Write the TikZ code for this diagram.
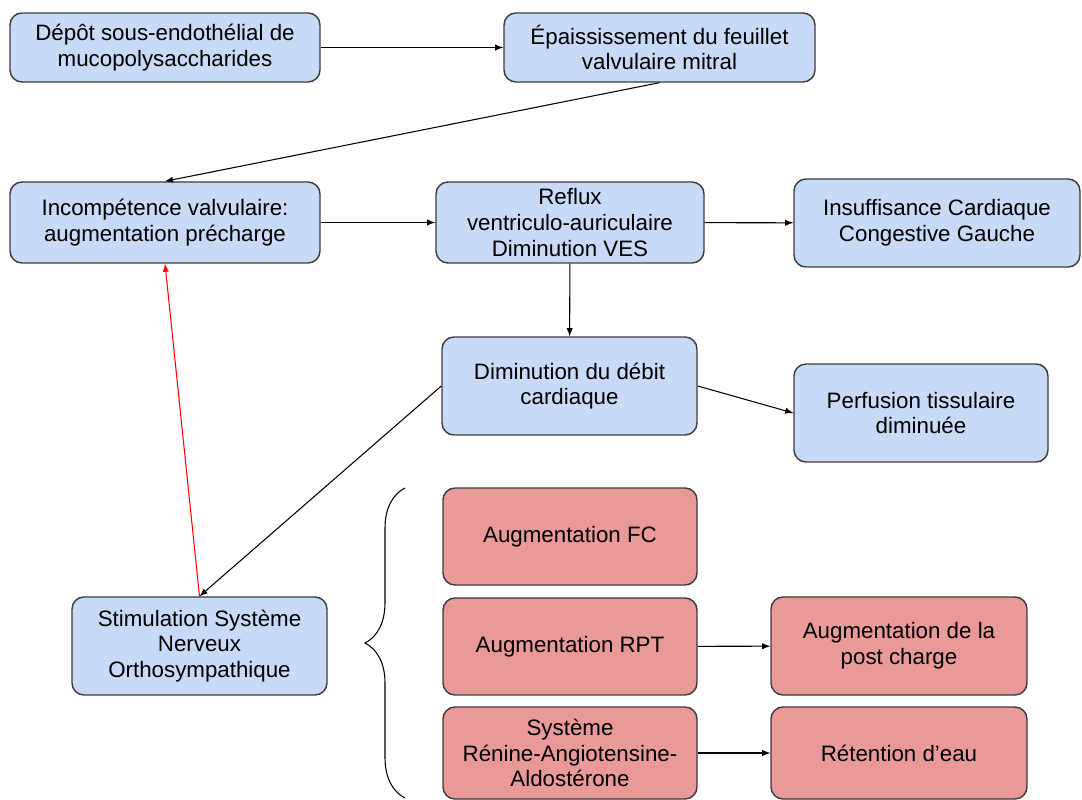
\documentclass[tikz,border=0pt]{standalone}
\usepackage{fontspec}
\setmainfont{Liberation Sans}
\usetikzlibrary{decorations.pathreplacing}
\definecolor{bluebox}{HTML}{C9DAF8}
\definecolor{redbox}{HTML}{EA9999}
\definecolor{edgegray}{HTML}{3C3C3C}
\begin{document}
\begin{tikzpicture}[
        box/.style={draw=edgegray,line width=0.8pt,rounded corners=0.24cm,align=center,inner sep=0pt,font=\fontsize{12.7}{14.6}\selectfont},
        bluenode/.style={box,fill=bluebox},
        rednode/.style={box,fill=redbox},
        link/.style={-latex,line width=0.6pt}]
        \useasboundingbox (0,0) rectangle (21.64,-16);
        \node[bluenode,minimum width=6.2cm,minimum height=1.38cm](depot)at(3.3,-0.95){Dépôt sous-endothélial de\\mucopolysaccharides};
        \node[bluenode,minimum width=6.22cm,minimum height=1.38cm](epaiss)at(13.19,-0.95){Épaississement du feuillet\\valvulaire mitral};
        \node[bluenode,minimum width=6.2cm,minimum height=1.62cm](incomp)at(3.3,-4.45){Incompétence valvulaire:\\augmentation précharge};
        \node[bluenode,minimum width=5.36cm,minimum height=1.62cm](reflux)at(11.4,-4.45){Reflux\\ventriculo-auriculaire\\Diminution VES};
        \node[bluenode,minimum width=5.72cm,minimum height=1.76cm](iccg)at(18.74,-4.46){Insuffisance Cardiaque\\Congestive Gauche};
        \node[bluenode,minimum width=5.1cm,minimum height=1.96cm](debit)at(11.39,-7.72){Diminution du débit\\cardiaque};
        \node[bluenode,minimum width=5.08cm,minimum height=1.96cm](perf)at(18.42,-8.26){Perfusion tissulaire\\diminuée};
        \node[bluenode,minimum width=5.1cm,minimum height=1.96cm](stim)at(3.99,-12.92){Stimulation Système\\Nerveux\\Orthosympathique};
        \node[rednode,minimum width=5.08cm,minimum height=1.94cm](fc)at(11.4,-10.73){Augmentation FC};
        \node[rednode,minimum width=5.08cm,minimum height=1.94cm](rpt)at(11.4,-12.93){Augmentation RPT};
        \node[rednode,minimum width=5.08cm,minimum height=1.84cm](sraa)at(11.4,-15.06){Système\\Rénine-Angiotensine-\\Aldostérone};
        \node[rednode,minimum width=5.12cm,minimum height=1.96cm](post)at(17.98,-12.92){Augmentation de la\\post charge};
        \node[rednode,minimum width=5.12cm,minimum height=1.84cm](eau)at(17.98,-15.06){Rétention d'eau};
        \draw[link](depot)--(epaiss);
        \draw[link](epaiss.south)--(incomp.north);
        \draw[link](incomp)--(reflux);
        \draw[link](reflux)--(iccg);
        \draw[link](reflux)--(debit);
        \draw[link](debit.east)--(perf.west);
        \draw[link](debit.west)--(stim.north);
        \draw[link,red](stim.north)--(incomp.south);
        \draw[link](rpt)--(post);
        \draw[link](sraa)--(eau);
        \draw[line width=0.6pt,decorate,decoration={brace,amplitude=0.8cm}](8.1,-15.96)--(8.1,-9.76);
    \end{tikzpicture}
\end{document}
